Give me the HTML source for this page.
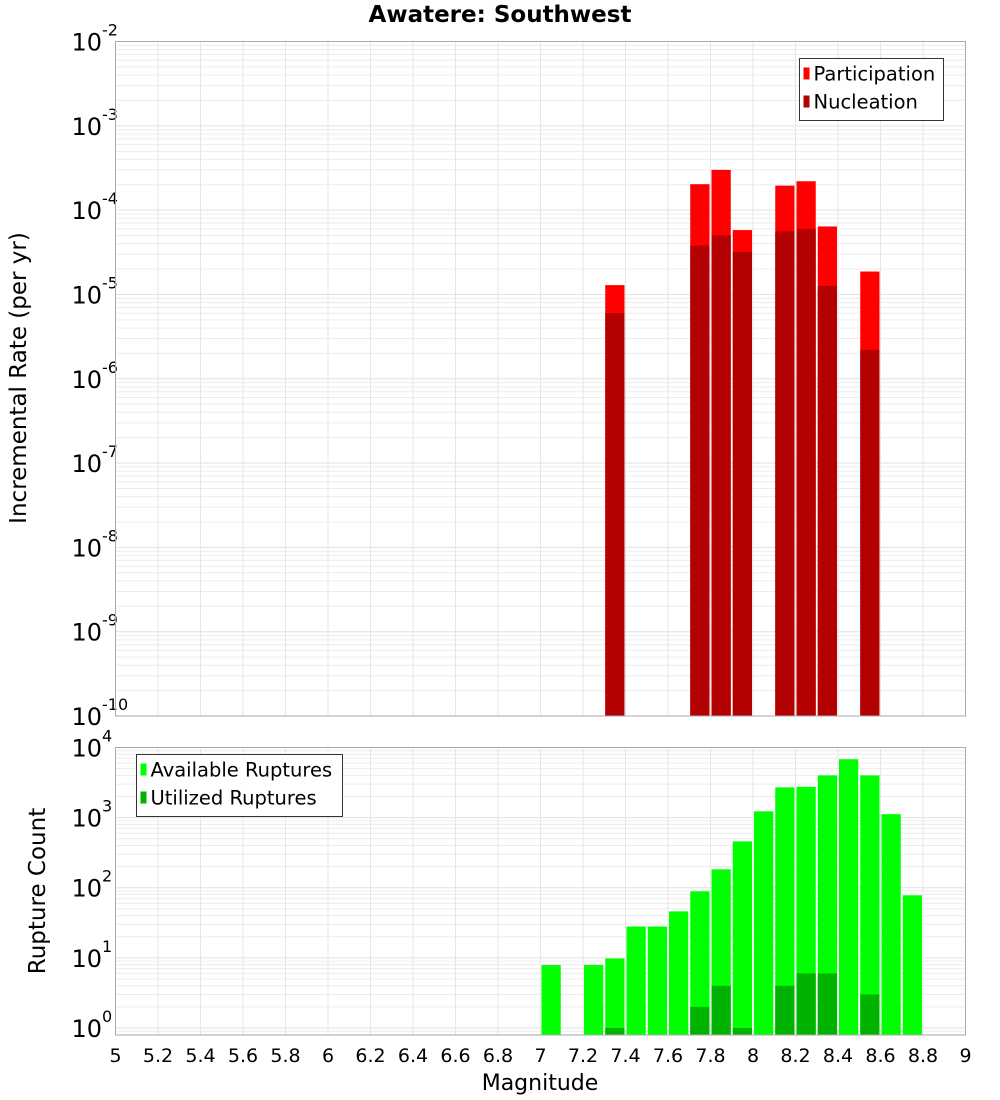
<!DOCTYPE html>
<html><head><meta charset="utf-8"><style>
body{margin:0;background:#fff}
svg{display:block;font-family:"DejaVu Sans","Liberation Sans",sans-serif}
</style></head><body>
<svg id="chart" width="1000" height="1100">
<text x="500" y="22" text-anchor="middle" font-size="23" font-weight="bold">Awatere: Southwest</text>
<g id="top"></g>
<g id="bot"></g>
<text transform="translate(26,378) rotate(-90)" text-anchor="middle" font-size="23">Incremental Rate (per yr)</text>
<text transform="translate(45,891) rotate(-90)" text-anchor="middle" font-size="23">Rupture Count</text>
<text x="540" y="1090" text-anchor="middle" font-size="22">Magnitude</text>
</svg>
<script>
const rateMags=[7.35,7.75,7.85,7.95,8.15,8.25,8.35,8.55];
const participation=[1.29e-5,2.03e-4,3.0e-4,5.8e-5,1.95e-4,2.2e-4,6.4e-5,1.87e-5];
const nucleation=[6.0e-6,3.8e-5,5.0e-5,3.2e-5,5.6e-5,6.0e-5,1.26e-5,2.2e-6];
const countMags=[7.05,7.25,7.35,7.45,7.55,7.65,7.75,7.85,7.95,8.05,8.15,8.25,8.35,8.45,8.55,8.65,8.75];
const available=[7.9,7.9,9.8,28,28,46,89,183,458,1230,2700,2750,4000,6800,4000,1120,78];
const utilMags=[7.35,7.75,7.85,7.95,8.15,8.25,8.35,8.55];
const utilized=[1.0,2,4,1,4,6,6,3];
const xTicks=["5","5.2","5.4","5.6","5.8","6","6.2","6.4","6.6","6.8","7","7.2","7.4","7.6","7.8","8","8.2","8.4","8.6","8.8","9"];

const NS="http://www.w3.org/2000/svg";
const X0=115.5,X1=965.5;
const xs=m=>X0+(m-5)/4*(X1-X0);
function mk(tag,attrs,parent){const e=document.createElementNS(NS,tag);for(const k in attrs)e.setAttribute(k,attrs[k]);parent.appendChild(e);return e;}
function plot(g,top,bottom,lmin,lmax,ylab,name){
  const ys=v=>bottom-(Math.log10(v)-lmin)/(lmax-lmin)*(bottom-top);
  for(let d=Math.floor(lmin);d<lmax;d++){for(let k=1;k<10;k++){const v=k*Math.pow(10,d);const l=Math.log10(v);if(l<lmin||l>lmax)continue;const y=ys(v);
    const ln=mk('line',{x1:X0,x2:X1,y1:y,y2:y,stroke:k==1?'#e2e2e2':'#ececec','stroke-width':1},g);
    }}
  xTicks.forEach(t=>{const x=xs(+t);const ln=mk('line',{x1:x,x2:x,y1:top,y2:bottom,stroke:'#e6e6e6'},g);
    });
  for(let d=Math.ceil(lmin);d<=lmax;d++){const y=ys(Math.pow(10,d));
    const t=mk('text',{x:102,y:y+9,'text-anchor':'end','font-size':24},g);t.textContent='10';
    
    const s=mk('text',{x:102,y:y-6,'font-size':16},g);s.textContent=String(d);
    }
  return ys;
}
function bar(g,m,v,ys,bottom,color,nm){const x=xs(m-0.05)+1,w=xs(m+0.05)-xs(m-0.05)-2;const y=ys(v);
  const r=mk('rect',{x:x,y:y,width:w,height:bottom-y,fill:color},g);
  }
const gt=document.getElementById('top');
const T0=41.5,T1=716;
const ys1=plot(gt,T0,T1,-10,-2,'','rate');
rateMags.forEach((m,i)=>bar(gt,m,participation[i],ys1,T1,'#ff0000','participation-bar'));
rateMags.forEach((m,i)=>bar(gt,m,nucleation[i],ys1,T1,'#b30000','nucleation-bar'));
mk('rect',{x:X0,y:T0,width:X1-X0,height:T1-T0,fill:'none',stroke:'#aaa'},gt);
const gb=document.getElementById('bot');
const B0=747.5,B1=1035;
const ys2=plot(gb,B0,B1,-0.1,4,'','count');
countMags.forEach((m,i)=>bar(gb,m,available[i],ys2,B1,'#00ff00','available-bar'));
utilMags.forEach((m,i)=>bar(gb,m,utilized[i],ys2,B1,'#00b300','utilized-bar'));
mk('rect',{x:X0,y:B0,width:X1-X0,height:B1-B0,fill:'none',stroke:'#aaa'},gb);
xTicks.forEach(t=>{const e=mk('text',{x:xs(+t),y:1062,'text-anchor':'middle','font-size':19},gb);e.textContent=t;
  });
function legend(g,x,y,w,items,nm){const L=mk('g',{},g);
  mk('rect',{x:x,y:y,width:w,height:items.length*28+6,fill:'#fff',stroke:'#333'},L);
  items.forEach((it,i)=>{const yy=y+15+i*28;
    mk('rect',{x:x+4,y:yy-6,width:6,height:12,fill:it[1]},L);
    const t=mk('text',{x:x+14,y:yy+7,'font-size':19.5},L);t.textContent=it[0];
    });}
legend(gt,799.5,58.5,144,[["Participation","#ff0000"],["Nucleation","#b30000"]],'rate-legend');
legend(gb,136.5,754.5,206,[["Available Ruptures","#00ff00"],["Utilized Ruptures","#00b300"]],'count-legend');
</script>
</body></html>
